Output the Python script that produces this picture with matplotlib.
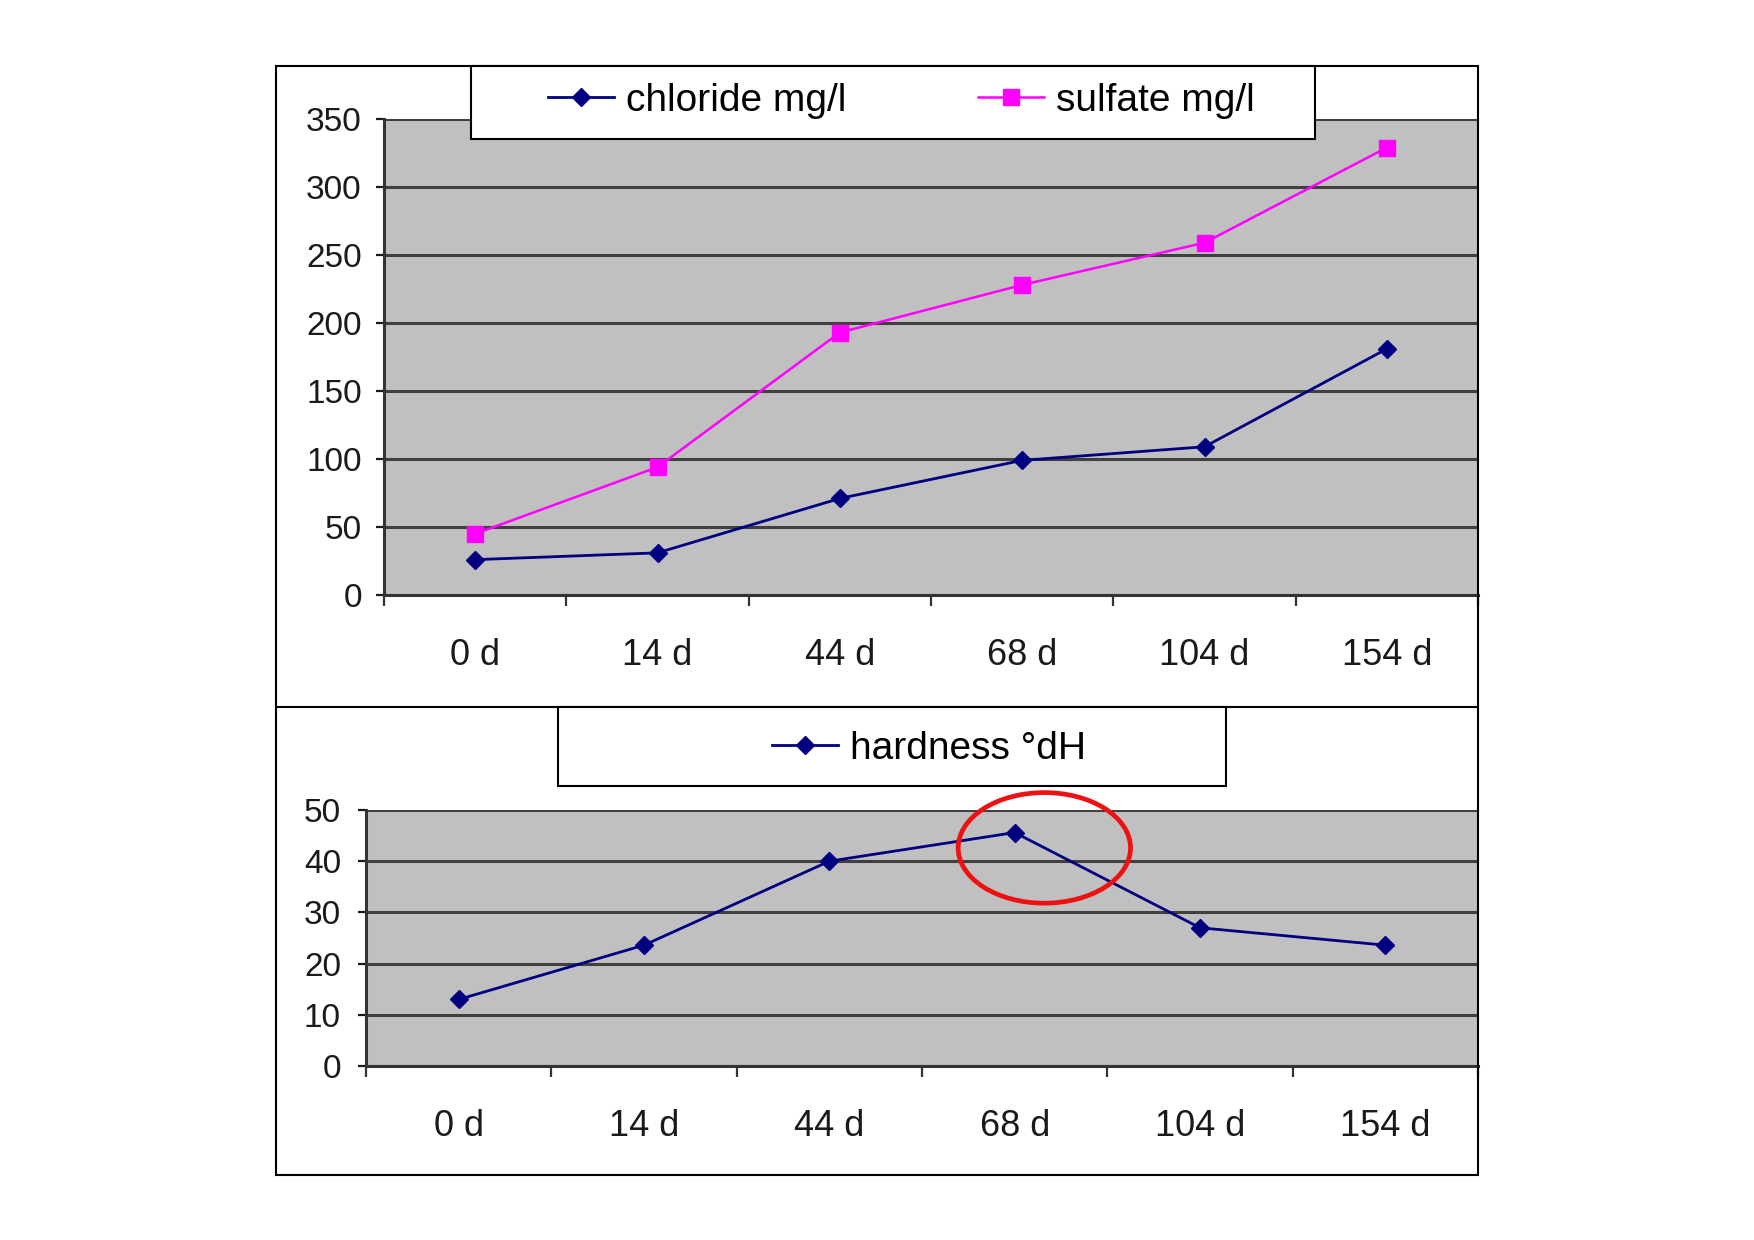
import numpy as np
import matplotlib.pyplot as plt
from matplotlib.patches import Rectangle, Ellipse

plt.rcParams['font.family'] = ['Liberation Sans', 'DejaVu Sans']

# datos
dias = ['0 d', '14 d', '44 d', '68 d', '104 d', '154 d']
cloruro = [26, 31, 71, 99, 109, 181]
sulfato = [45, 94, 193, 228, 259, 329]
dureza = [13, 23.6, 40, 45.6, 27, 23.6]

W, H = 1754, 1240
fig = plt.figure(figsize=(W / 100, H / 100), dpi=100)


def fx(px):
    return px / W


def fy(py):
    return 1 - py / H


gris = '#c0c0c0'
rejilla = '#404040'
azul = '#000080'
magenta = '#ff00ff'


def preparar(ax, ymax, paso, pad_y):
    x = np.arange(len(dias))
    ax.set_facecolor(gris)
    ax.set_xlim(-0.5, len(dias) - 0.5)
    ax.set_ylim(0, ymax)
    ax.set_yticks(np.arange(0, ymax + 1, paso))
    ax.set_xticks(x)
    ax.set_xticklabels(dias)
    ax.set_xticks(np.arange(-0.5, len(dias) - 0.4, 1), minor=True)
    ax.tick_params(axis='x', which='major', length=0, pad=31, labelsize=26, colors='#1a1a1a')
    ax.tick_params(axis='x', which='minor', length=8, width=1.6, direction='out', color='#333333')
    ax.tick_params(axis='y', length=6, width=1.6, direction='out', pad=pad_y, labelsize=24,
                   colors='#1a1a1a')
    ax.grid(axis='y', color=rejilla, linewidth=2.2)
    ax.set_axisbelow(True)
    for s in ['top', 'right']:
        ax.spines[s].set_visible(False)
    for s in ['left', 'bottom']:
        ax.spines[s].set_color('#333333')
        ax.spines[s].set_linewidth(2.2)
    return x


# marco exterior
fig.patches.append(Rectangle((fx(276), fy(1175)), fx(1478 - 276), (1175 - 66) / H,
                             transform=fig.transFigure, fill=False, edgecolor='black', linewidth=1.5))
fig.add_artist(plt.Line2D([fx(276), fx(1478)], [fy(707), fy(707)], color='black', linewidth=1.5))

# gráfico superior
ax1 = fig.add_axes([fx(384), fy(595), fx(1478 - 384), (595 - 119) / H])
x = preparar(ax1, 350, 50, 10)
ax1.plot(x, cloruro, color=azul, marker='D', markersize=9, linewidth=2.0, label='chloride mg/l')
ax1.plot(x, sulfato, color=magenta, marker='s', markersize=11, linewidth=1.8, label='sulfate mg/l')

fig.patches.append(Rectangle((fx(471), fy(139)), fx(1315 - 471), (139 - 66) / H,
                             transform=fig.transFigure, facecolor='white', edgecolor='black',
                             linewidth=1.5, zorder=5))
leg1 = fig.legend(handles=ax1.get_lines(), loc='center left', bbox_to_anchor=(fx(548), fy(101)),
                  ncol=2, frameon=False, fontsize=28, handlelength=1.7, handletextpad=0.3,
                  columnspacing=3.4, borderpad=0, borderaxespad=0)
leg1.set_zorder(6)

# gráfico inferior
ax2 = fig.add_axes([fx(366), fy(1066), fx(1478 - 366), (1066 - 810) / H])
x = preparar(ax2, 50, 10, 12)
ax2.plot(x, dureza, color=azul, marker='D', markersize=9, linewidth=2.0, label='hardness °dH')

fig.patches.append(Rectangle((fx(558), fy(786)), fx(1226 - 558), (786 - 707) / H,
                             transform=fig.transFigure, facecolor='white', edgecolor='black',
                             linewidth=1.5, zorder=5))
leg2 = fig.legend(handles=ax2.get_lines(), loc='center left', bbox_to_anchor=(fx(772), fy(749)),
                  frameon=False, fontsize=28, handlelength=1.7, handletextpad=0.3,
                  borderpad=0, borderaxespad=0)
leg2.set_zorder(6)

# círculo rojo alrededor del máximo
ax2.add_patch(Ellipse((3.16, 42.6), 0.93, 21.6, fill=False, edgecolor='#ee1111',
                      linewidth=3.4, clip_on=False, zorder=4))

fig.savefig('out.png', dpi=100, facecolor='white')
